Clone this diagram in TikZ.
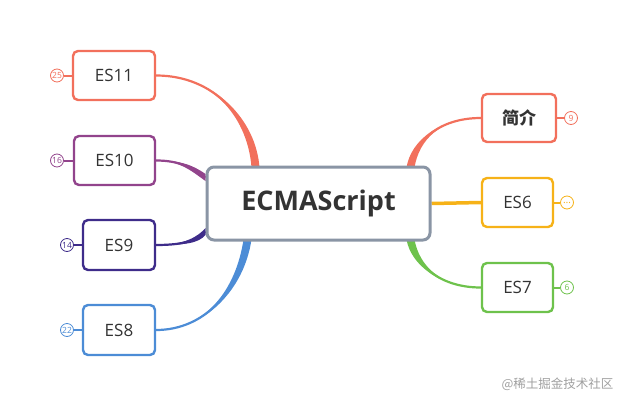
\documentclass[tikz,border=0pt]{standalone}
\usepackage{fontspec}
\setmainfont{Open Sans}
\newfontfamily\cjk{Noto Sans CJK SC}
\usetikzlibrary{positioning,calc,backgrounds}
\definecolor{topicred}{RGB}{242,112,92}
\definecolor{topicpurple}{RGB}{146,68,140}
\definecolor{topicindigo}{RGB}{62,44,138}
\definecolor{topicblue}{RGB}{76,140,214}
\definecolor{topicyellow}{RGB}{246,178,24}
\definecolor{topicgreen}{RGB}{110,194,76}
\definecolor{coregray}{RGB}{138,149,165}
\definecolor{inkgray}{RGB}{51,51,51}
% tapered branch: colour, start, control 1, control 2, end, half width at end
\newcommand{\branch}[6]{%
  \fill[#1] (#2) .. controls (#3) and ($(#4)+(#6)$) .. ($(#5)+(#6)$)
    -- ($(#5)-(#6)$) .. controls ($(#4)-(#6)$) and (#3) .. (#2);
  \draw[#1,line width=2.2pt] (#2) .. controls (#3) and (#4) .. (#5);
}

\begin{document}
\begin{tikzpicture}[x=1pt,y=-1pt,
  topic/.style={draw=#1,line width=2.4pt,rounded corners=5pt,fill=white,
    text=inkgray,font=\fontsize{17}{17}\selectfont,inner sep=0pt},
  badge/.style={draw=#1,text=#1,circle,line width=0.8pt,fill=white,
    minimum size=13pt,inner sep=0pt,font=\fontsize{8.5}{8.5}\selectfont},
  stub/.style={draw=#1,line width=2pt}]
\useasboundingbox (0,0) rectangle (630,405);

% central topic
\node[draw=coregray,line width=3pt,rounded corners=7pt,fill=white,text=inkgray,
  minimum width=223pt,minimum height=73pt,
  font=\fontsize{27}{27}\selectfont\bfseries] (core) at (318.5,203.5) {ECMAScript};

% left side
\node[topic=topicred,minimum width=82pt,minimum height=49pt] (es11) at (114,75.5) {ES11};
\node[topic=topicpurple,minimum width=81pt,minimum height=49pt] (es10) at (114.5,160.5) {ES10};
\node[topic=topicindigo,minimum width=72pt,minimum height=50pt] (es9) at (119,245) {ES9};
\node[topic=topicblue,minimum width=72pt,minimum height=50pt] (es8) at (119,330) {ES8};

% right side
\node[topic=topicred,minimum width=74pt,minimum height=48pt,
  font=\fontsize{17}{17}\selectfont\cjk\bfseries] (intro) at (519,118) {简介};
\node[topic=topicyellow,minimum width=71pt,minimum height=49pt] (es6) at (517.5,202.5) {ES6};
\node[topic=topicgreen,minimum width=71pt,minimum height=49pt] (es7) at (517.5,287.5) {ES7};

% counters
\node[badge=topicred] (n11) at (57,75.5) {25};
\node[badge=topicpurple] (n10) at (57,160.5) {16};
\node[badge=topicindigo] (n9) at (67,245) {14};
\node[badge=topicblue] (n8) at (67,330) {22};
\node[badge=topicred] (nintro) at (571,118) {9};
\node[badge=topicyellow,font=\fontsize{10}{10}\selectfont] (n6) at (567,202.5) {…};
\node[badge=topicgreen] (n7) at (567,287.5) {6};

\begin{scope}[on background layer]
\coordinate (c11) at ($(core.north west)+(50,2)$);
\coordinate (c10) at ($(core.west)+(0,-26)$);
\coordinate (c9) at ($(core.west)+(0,28)$);
\coordinate (c8) at ($(core.south west)+(42,-2)$);
\coordinate (cintro) at ($(core.north east)+(-21,2)$);
\coordinate (c7) at ($(core.south east)+(-21,-2)$);
\branch{topicred}{es11.east}{215,75.5}{252,120}{c11}{4,0}
\branch{topicpurple}{es10.east}{180,160.5}{192,168}{c10}{0,3.5}
\branch{topicindigo}{es9.east}{185,245}{198,240}{c9}{0,3.5}
\branch{topicblue}{es8.east}{205,330}{240,290}{c8}{4,0}
\branch{topicred}{intro.west}{440,118}{415,140}{cintro}{4,0}
\branch{topicgreen}{es7.west}{440,287.5}{415,265}{c7}{4,0}
\draw[topicyellow,line width=3.5pt] (core.east) -- (es6.west);
\draw[stub=topicred] (n11) -- (es11);
\draw[stub=topicpurple] (n10) -- (es10);
\draw[stub=topicindigo] (n9) -- (es9);
\draw[stub=topicblue] (n8) -- (es8);
\draw[stub=topicred] (intro) -- (nintro);
\draw[stub=topicyellow] (es6) -- (n6);
\draw[stub=topicgreen] (es7) -- (n7);
\end{scope}

% watermark
\node[anchor=east,text=gray!75,font=\fontsize{12.5}{12.5}\selectfont\cjk] (mark) at (617,384) {@稀土掘金技术社区};
\end{tikzpicture}
\end{document}
